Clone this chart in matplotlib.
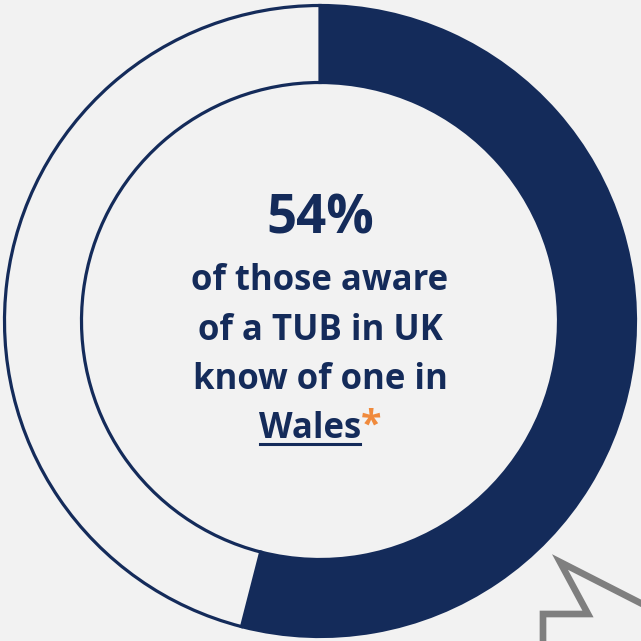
import matplotlib
matplotlib.use("Agg")
import matplotlib.pyplot as plt

# data
SHARE = [54, 46]
LABEL_PCT = "54%"
LINES = ["of those aware", "of a TUB in UK", "know of one in"]
LAST_WORD = "Wales"

NAVY = "#142b5a"
BG = "#f2f2f2"
ORANGE = "#f08a3c"
GREY = "#7f7f7f"
FONT = "Open Sans"
FS = 25

fig = plt.figure(figsize=(6.41, 6.41), dpi=100, facecolor=BG)
ax = fig.add_axes([0, 0, 1, 1])
ax.set_xlim(0, 641)
ax.set_ylim(0, 641)
ax.set_aspect("equal")
ax.set_axis_off()
ax.set_facecolor(BG)

# donut
ax.pie(SHARE, colors=[NAVY, BG], startangle=90, counterclock=False,
       center=(320, 320), radius=315.5,
       wedgeprops=dict(width=77, edgecolor=NAVY, linewidth=2.3))
ax.set_xlim(0, 641)
ax.set_ylim(0, 641)

# grey callout outline in the corner
ax.plot([543, 543, 588, 560, 660], [-5, 27, 27, 79, 28],
        color=GREY, linewidth=4.8, solid_joinstyle="miter", clip_on=True)

# centre text
ax.text(320, 641 - 219, LABEL_PCT, ha="center", va="center",
        fontsize=38, fontweight="bold", color=NAVY, family=FONT)
for i, line in enumerate(LINES):
    ax.text(320, 641 - (281 + 49.5 * i), line, ha="center", va="center",
            fontsize=FS, fontweight="bold", color=NAVY, family=FONT)

# last line: underlined word + orange asterisk
fig.canvas.draw()
r = fig.canvas.get_renderer()
y_last = 641 - 429
t_word = ax.text(0, y_last, LAST_WORD, ha="left", va="center",
                 fontsize=FS, fontweight="bold", color=NAVY, family=FONT)
t_star = ax.text(0, y_last + 2, "*", ha="left", va="center",
                 fontsize=FS + 2, fontweight="bold", color=ORANGE, family=FONT)
inv = ax.transData.inverted()
bw = t_word.get_window_extent(r)
bs = t_star.get_window_extent(r)
w_word = inv.transform((bw.x1, 0))[0] - inv.transform((bw.x0, 0))[0]
w_star = inv.transform((bs.x1, 0))[0] - inv.transform((bs.x0, 0))[0]
x0 = 320 - (w_word + w_star) / 2
t_word.set_x(x0)
t_star.set_x(x0 + w_word)
ax.plot([x0 + 1, x0 + w_word - 1], [641 - 444, 641 - 444], color=NAVY, linewidth=2.2)

fig.savefig("out.png", dpi=100, facecolor=BG)
